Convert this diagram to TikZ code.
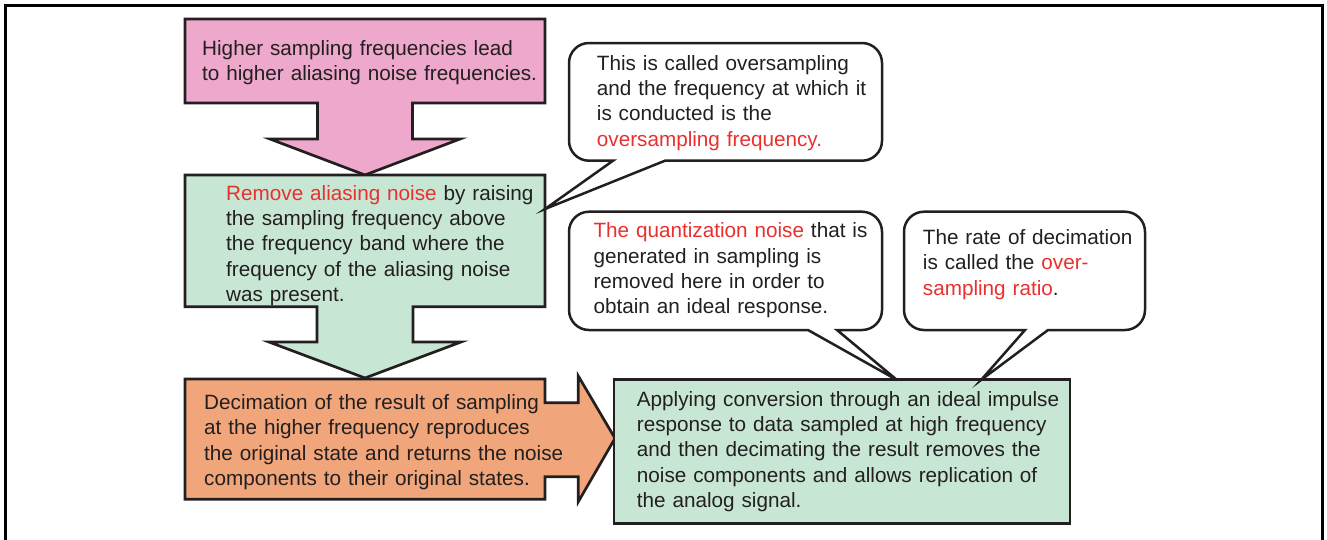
\documentclass[tikz,border=0pt]{standalone}
\usepackage{fontspec}
\setmainfont{Liberation Sans}
\definecolor{txtc}{HTML}{231F20}
\definecolor{redc}{HTML}{E8312F}
\definecolor{pinkc}{HTML}{EDA8CB}
\definecolor{greenc}{HTML}{C8E6D4}
\definecolor{orangec}{HTML}{F0A67A}
\newcommand{\rd}[1]{\textcolor{redc}{#1}}
\tikzset{
  txt/.style={anchor=base west, inner sep=0pt, text width=480pt, align=left,
    font={\fontsize{20.7}{25.4}\selectfont}, text=txtc},
  blockarrow/.style={draw=txtc, line width=2.7pt, line join=miter},
  callbox/.style={draw=txtc, fill=white, line width=2.5pt, line join=miter},
}
\begin{document}
\begin{tikzpicture}[x=1pt,y=-1pt]
\useasboundingbox (0,0) rectangle (1327,539);
% outer frame
\draw[line width=3pt, black] (5,545) -- (5,5) -- (1322.5,5) -- (1322.5,545);

% pink down arrow
\draw[blockarrow, fill=pinkc] (185,19) -- (545,19) -- (545,103) -- (412.5,103) -- (412.5,139)
  -- (460,139) -- (365,175) -- (270,139) -- (317.5,139) -- (317.5,103) -- (185,103) -- cycle;
% green down arrow
\draw[blockarrow, fill=greenc] (185,175) -- (545,175) -- (545,306.7) -- (413,306.7) -- (413,342)
  -- (461,342) -- (365,378) -- (269,342) -- (317,342) -- (317,306.7) -- (185,306.7) -- cycle;
% orange right arrow
\draw[blockarrow, fill=orangec] (185,379) -- (545,379) -- (545,402.7) -- (578.3,402.7) -- (578.3,376)
  -- (615,438.3) -- (578.3,501.7) -- (578.3,476.7) -- (545,476.7) -- (545,499.3) -- (185,499.3) -- cycle;
% right green box
\draw[blockarrow, fill=greenc] (614,379.5) rectangle (1070,523.3);

% callout 1
\coordinate (tip1) at (545,209);
\draw[callbox] (665,160.7) -- (862,160.7) arc[start angle=90,end angle=0,radius=20]
  -- (882,63) arc[start angle=0,end angle=-90,radius=20]
  -- (589,43) arc[start angle=-90,end angle=-180,radius=20]
  -- (569,140.7) arc[start angle=180,end angle=90,radius=20]
  -- (613,160.7) -- (tip1) -- cycle;
% callout 2
\coordinate (tip2) at (897,380);
\draw[callbox] (837,330) -- (862,330) arc[start angle=90,end angle=0,radius=20]
  -- (882,231.7) arc[start angle=0,end angle=-90,radius=20]
  -- (589,211.7) arc[start angle=-90,end angle=-180,radius=20]
  -- (569,310) arc[start angle=180,end angle=90,radius=20]
  -- (808,330) -- (tip2) -- cycle;
% callout 3
\coordinate (tip3) at (981,380);
\draw[callbox] (1048,330) -- (1125,330) arc[start angle=90,end angle=0,radius=20]
  -- (1145,231.7) arc[start angle=0,end angle=-90,radius=20]
  -- (924,211.7) arc[start angle=-90,end angle=-180,radius=20]
  -- (904,310) arc[start angle=180,end angle=90,radius=20]
  -- (1025,330) -- (tip3) -- cycle;

% texts
\node[txt] (t1) at (202,55) {Higher sampling frequencies lead\\to higher aliasing noise frequencies.};
\node[txt] (t2) at (226,200) {\rd{Remove aliasing noise} by raising\\the sampling frequency above\\the frequency band where the\\frequency of the aliasing noise\\was present.};
\node[txt] (t3) at (204,409.3) {Decimation of the result of sampling\\at the higher frequency reproduces\\the original state and returns the noise\\components to their original states.};
\node[txt] (t4) at (636.7,406) {Applying conversion through an ideal impulse\\response to data sampled at high frequency\\and then decimating the result removes the\\noise components and allows replication of\\the analog signal.};
\node[txt] (c1) at (596.7,70) {This is called oversampling\\and the frequency at which it\\is conducted is the\\\rd{oversampling frequency.}};
\node[txt] (c2) at (593.3,237.7) {\rd{The quantization noise} that is\\generated in sampling is\\removed here in order to\\obtain an ideal response.};
\node[txt] (c3) at (922.7,244.3) {The rate of decimation\\is called the \rd{over-}\\\rd{sampling ratio}.};
\end{tikzpicture}
\end{document}
